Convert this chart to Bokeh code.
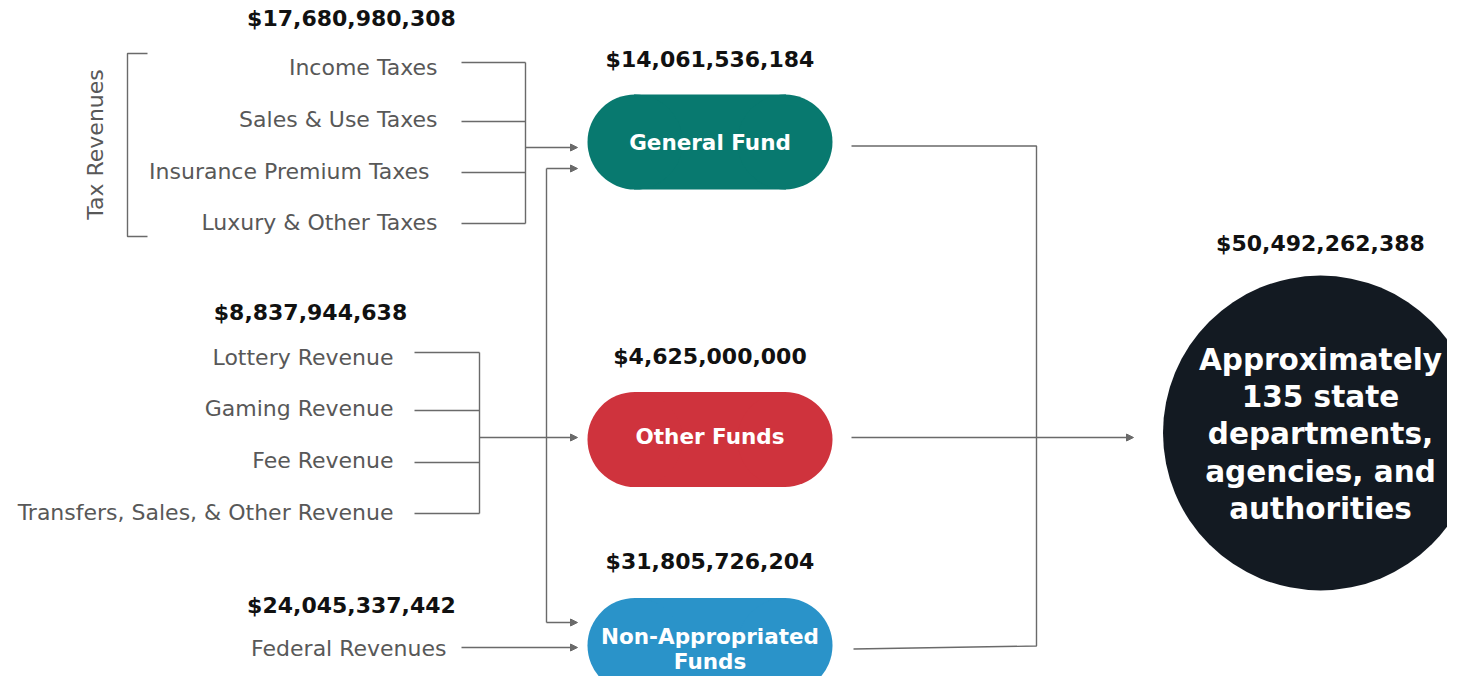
from math import pi
from bokeh.plotting import figure
from bokeh.models import Range1d, Arrow, NormalHead
from bokeh.core.properties import value
from bokeh.embed import file_html
from bokeh.resources import INLINE

# ---------------- data ----------------
tax_items = ["Income Taxes", "Sales & Use Taxes", "Insurance Premium Taxes", "Luxury & Other Taxes"]
tax_group_label = "Tax Revenues"
tax_total = 17680980308
other_items = ["Lottery Revenue", "Gaming Revenue", "Fee Revenue", "Transfers, Sales, & Other Revenue"]
other_total = 8837944638
federal_items = ["Federal Revenues"]
federal_total = 24045337442
fund_names = ["General Fund", "Other Funds", "Non-Appropriated\nFunds"]
fund_totals = [14061536184, 4625000000, 31805726204]
fund_colors = ["#08796F", "#CF333D", "#2A93C9"]
dest_text = "Approximately\n135 state\ndepartments,\nagencies, and\nauthorities"
dest_total = 50492262388
dest_color = "#131A22"

def money(v):
    return "${:,}".format(v)

# ---------------- layout (screen pixels) ----------------
W, H = 1447, 676
LINE = "#6a6a6a"
LABEL = "#585858"
FONT = value("DejaVu Sans")

p = figure(width=W, height=H, x_range=Range1d(0, W), y_range=Range1d(H, 0),
           output_backend="svg", toolbar_location=None, min_border=0)
p.axis.visible = False
p.grid.visible = False
p.outline_line_color = None
p.background_fill_color = "white"

def lbl(xs, ys, texts, align="right", color=LABEL, size="22px", style="normal", font=FONT, lh=1.2):
    p.text(x=xs, y=ys, text=texts, text_align=align, text_baseline="middle",
           text_color=color, text_font_size=size, text_font_style=style, text_font=font,
           text_line_height=lh)

def arrow(x0, y0, x1, y1):
    p.add_layout(Arrow(end=NormalHead(size=7, fill_color=LINE, line_color=LINE, line_width=1),
                       x_start=x0, y_start=y0, x_end=x1, y_end=y1,
                       line_color=LINE, line_width=1.4))

# --- tax group ---
tax_text_x = [437, 437, 429, 437]
tax_text_y = [67, 119, 171, 222]
tax_line_y = [62, 121, 172, 223]
lbl(tax_text_x, tax_text_y, tax_items)
p.segment(x0=[461] * 4, y0=tax_line_y, x1=[525] * 4, y1=tax_line_y, line_color=LINE, line_width=1.4)
p.segment(x0=[525], y0=[tax_line_y[0]], x1=[525], y1=[tax_line_y[-1]], line_color=LINE, line_width=1.4)
arrow(525, 147, 577, 147)
lbl([351], [18], [money(tax_total)], align="center", color="#111111", style="bold")
# bracket
p.line(x=[147, 127, 127, 147], y=[53, 53, 236, 236], line_color=LINE, line_width=1.4)
p.text(x=[95], y=[144], text=[tax_group_label], angle=pi / 2, text_align="center",
       text_baseline="middle", text_color=LABEL, text_font_size="22px", text_font=FONT)

# --- other revenue group ---
oth_text_y = [357, 408, 460, 512]
oth_line_y = [352, 410, 462, 513]
lbl([393] * 4, oth_text_y, other_items)
p.segment(x0=[414] * 4, y0=oth_line_y, x1=[479] * 4, y1=oth_line_y, line_color=LINE, line_width=1.4)
p.segment(x0=[479], y0=[oth_line_y[0]], x1=[479], y1=[oth_line_y[-1]], line_color=LINE, line_width=1.4)
arrow(479, 437, 577, 437)
lbl([310], [312], [money(other_total)], align="center", color="#111111", style="bold")

# --- federal ---
lbl([446], [648], federal_items)
arrow(461, 647, 577, 647)
lbl([351], [605], [money(federal_total)], align="center", color="#111111", style="bold")

# --- link from GF bus to non-appropriated ---
p.line(x=[546, 546], y=[168, 622], line_color=LINE, line_width=1.4)
arrow(546, 168, 577, 168)
arrow(546, 622, 577, 622)

# --- fund pills ---
pill_cx, pill_w, pill_h = 709.5, 245, 95
pill_cy = [141.5, 439, 645]
r = pill_h / 2
p.rect(x=[pill_cx] * 3, y=pill_cy, width=pill_w - pill_h + 2, height=pill_h,
       fill_color=fund_colors, line_color=None)
p.circle(x=[pill_cx - pill_w / 2 + r] * 3, y=pill_cy, radius=r, fill_color=fund_colors, line_color=None)
p.circle(x=[pill_cx + pill_w / 2 - r] * 3, y=pill_cy, radius=r, fill_color=fund_colors, line_color=None)
lbl([pill_cx] * 3, [141.5, 436, 648.5], fund_names, align="center", color="white", size="21.5px",
    style="bold", lh=0.99)
lbl([pill_cx] * 3, [59, 356, 561], [money(v) for v in fund_totals], align="center",
    color="#111111", style="bold")

# --- outputs ---
p.line(x=[851, 1036, 1036, 853], y=[145.5, 145.5, 645.5, 648.5], line_color=LINE, line_width=1.4)
arrow(851, 437, 1133, 437)

# --- destination circle ---
p.circle(x=[1320], y=[432.5], radius=157.5, fill_color=dest_color, line_color=None)
lbl([1320], [434], [dest_text], align="center", color="white", size="29.5px", style="bold", lh=1.09)
lbl([1320], [243], [money(dest_total)], align="center", color="#111111", style="bold")

open("out.html", "w").write(file_html(p, INLINE))
